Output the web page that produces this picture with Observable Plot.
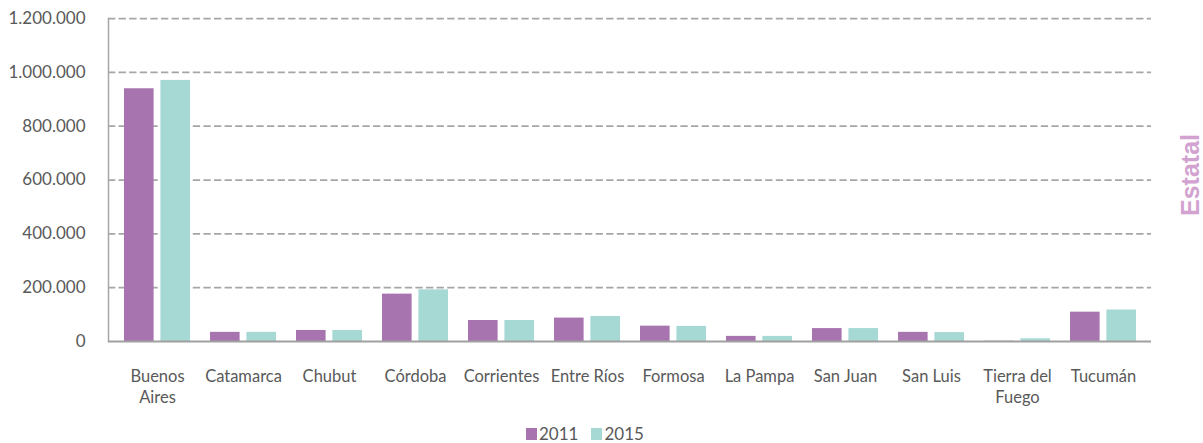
<!DOCTYPE html>
<html>
<head>
<meta charset="utf-8">
<script src="https://cdn.jsdelivr.net/npm/d3@7"></script>
<script src="https://cdn.jsdelivr.net/npm/@observablehq/plot@0.6"></script>
<style>
  html, body { margin: 0; padding: 0; background: #fff; }
  #wrap { position: relative; width: 1203px; height: 443px; font-family: Lato, "Open Sans", sans-serif; color: #595959; overflow: hidden; }
  #legend { position: absolute; left: 526px; top: 425px; display: flex; align-items: center; font-size: 17px; line-height: 17px; height: 17px; }
  .item { display: flex; align-items: center; margin-right: 13px; }
  .sw { width: 11px; height: 12px; margin-right: 2px; }
  #side { position: absolute; left: 1190px; top: 175px; width: 0; height: 0; }
  #side span { position: absolute; left: 0; top: 0; transform: translate(-50%, -50%) rotate(-90deg); white-space: nowrap;
    font-family: "Liberation Sans", Arial, sans-serif; font-weight: bold; font-size: 25px; line-height: 25px; color: #d2a2d0; }
</style>
</head>
<body>
<div id="wrap"></div>
<script>
const categories = ["Buenos Aires","Catamarca","Chubut","Córdoba","Corrientes","Entre Ríos","Formosa","La Pampa","San Juan","San Luis","Tierra del Fuego","Tucumán"];
const tickLabels = ["Buenos\nAires","Catamarca","Chubut","Córdoba","Corrientes","Entre Ríos","Formosa","La Pampa","San Juan","San Luis","Tierra del\nFuego","Tucumán"];
const values2011 = [939000, 34000, 41000, 176000, 78000, 87000, 57000, 19000, 48000, 34000, 1000, 109000];
const values2015 = [970000, 34000, 41000, 192000, 78000, 93000, 56000, 19000, 48000, 33000, 10000, 117000];
const years = ["2011", "2015"];
const colors = ["#a874b0", "#a6d8d4"];
const yTicks = [0, 200000, 400000, 600000, 800000, 1000000, 1200000];
const sideLabel = "Estatal";

const d2011 = categories.map((c, i) => ({category: c, value: values2011[i]}));
const d2015 = categories.map((c, i) => ({category: c, value: values2015[i]}));

const fmt = d3.formatLocale({thousands: ".", grouping: [3], decimal: ","}).format(",d");

const chart = Plot.plot({
  width: 1203,
  height: 418,
  marginTop: 18,
  marginBottom: 77,
  marginLeft: 108,
  marginRight: 52,
  style: {fontFamily: "Lato, 'Open Sans', sans-serif", fontSize: "16.5px", color: "#595959", background: "#fff"},
  x: {type: "band", domain: categories, paddingInner: 0.235, paddingOuter: 0.117},
  y: {domain: [0, 1200000]},
  marks: [
    Plot.ruleY(yTicks.filter(d => d > 0), {stroke: "#a6a6a6", strokeWidth: 1.75, strokeDasharray: "7.3,3.3"}),
    Plot.barY(d2011, {x: "category", y: "value", fill: colors[0], insetLeft: 0, insetRight: 36.4}),
    Plot.barY(d2015, {x: "category", y: "value", fill: colors[1], insetLeft: 36.4, insetRight: 0}),
    Plot.frame({anchor: "left", stroke: "#a6a6a6", strokeWidth: 1.5}),
    Plot.ruleY([0], {stroke: "#a0a0a0", strokeWidth: 2}),
    Plot.axisY({ticks: yTicks, tickFormat: fmt, tickSize: 0, tickPadding: 23, fontSize: 17, label: null}),
    Plot.axisX({tickSize: 0, tickPadding: 25, tickFormat: d => tickLabels[categories.indexOf(d)], lineHeight: 1.3, label: null})
  ]
});

const wrap = document.getElementById("wrap");
wrap.appendChild(chart);

const side = document.createElement("div");
side.id = "side";
const sideSpan = document.createElement("span");
sideSpan.textContent = sideLabel;
side.appendChild(sideSpan);
wrap.appendChild(side);

const legend = document.createElement("div");
legend.id = "legend";
years.forEach((y, i) => {
  const it = document.createElement("div");
  it.className = "item";
  const sw = document.createElement("div");
  sw.className = "sw";
  sw.style.background = colors[i];
  const t = document.createElement("span");
  t.textContent = y;
  it.appendChild(sw);
  it.appendChild(t);
  legend.appendChild(it);
});
wrap.appendChild(legend);
</script>
</body>
</html>
